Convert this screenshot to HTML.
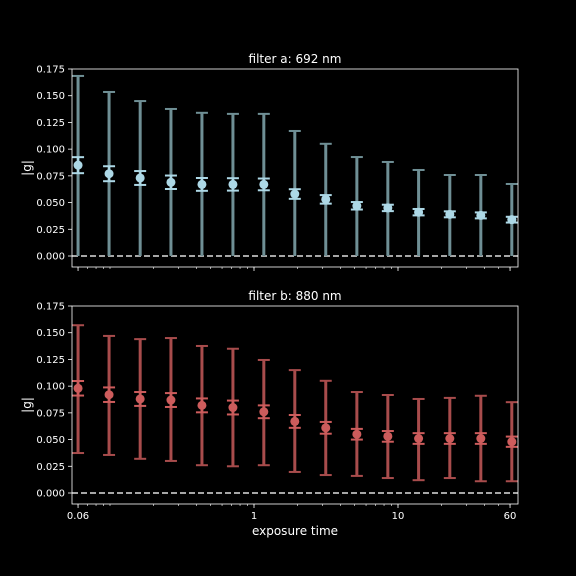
<!DOCTYPE html>
<html><head><meta charset="utf-8"><style>
body{margin:0;background:#000;}
svg{display:block;font-family:"DejaVu Sans","Liberation Sans",sans-serif;}
</style></head><body>
<svg id="chart" width="576" height="576" viewBox="0 0 576 576" xmlns="http://www.w3.org/2000/svg">
<rect width="576" height="576" fill="#000"/>
</svg>
<script>
const exposures=[0.06,0.0985,0.162,0.265,0.435,0.714,1.17,1.92,3.15,5.18,8.5,13.9,22.9,37.6,61.7];
const aMean=[0.085,0.077,0.073,0.069,0.067,0.067,0.067,0.058,0.053,0.047,0.045,0.041,0.039,0.038,0.034];
const aSmallErr=[0.0075,0.007,0.0065,0.0063,0.006,0.0058,0.0055,0.0045,0.004,0.0035,0.003,0.003,0.0028,0.0028,0.0027];
const aBigHigh=[0.1685,0.1535,0.145,0.1376,0.134,0.133,0.133,0.117,0.105,0.0926,0.088,0.0805,0.0758,0.0758,0.0674];
const aBigLow=[0,0,0,0,0,0,0,0,0,0,0,0,0,0,0];
const bMean=[0.098,0.092,0.088,0.087,0.082,0.080,0.076,0.067,0.061,0.055,0.053,0.051,0.051,0.051,0.048];
const bSmallErr=[0.0068,0.0068,0.0065,0.0065,0.0065,0.0065,0.006,0.006,0.0055,0.005,0.005,0.005,0.005,0.005,0.0048];
const bBigHigh=[0.157,0.147,0.144,0.145,0.1376,0.135,0.1245,0.115,0.105,0.0945,0.0917,0.088,0.089,0.091,0.085];
const bBigLow=[0.0374,0.0356,0.032,0.030,0.026,0.025,0.026,0.0197,0.0168,0.016,0.014,0.012,0.014,0.011,0.011];
const yTicks=[0,0.025,0.05,0.075,0.1,0.125,0.15,0.175];
const xTickVals=[0.06,1,10,60];
const xTickLabels=["0.06","1","10","60"];

const NS="http://www.w3.org/2000/svg";
const svg=document.getElementById('chart');
function mk(tag,attrs,parent){const e=document.createElementNS(NS,tag);for(const k in attrs)e.setAttribute(k,attrs[k]);(parent||svg).appendChild(e);return e;}
const L=72,R=518;
const xScale=v=>254+144*Math.log10(v);

function panel(top,title,mean,se,hi,lo,barCol,ptCol,labels,name){
  const bottom=top+198;
  const zeroY=top+187;
  const yScale=v=>zeroY-v*(187/0.175);
  const g=mk('g',{});
  
  
  const zl=mk('line',{x1:L,x2:R,y1:yScale(0),y2:yScale(0),stroke:'#dddddd','stroke-width':1.6,'stroke-dasharray':'6,3'},g);
  
  
  for(let i=0;i<exposures.length;i++){
    const x=xScale(exposures[i]);
    const eb=mk('g',{},g);
    
    
    mk('line',{x1:x,x2:x,y1:yScale(lo[i]),y2:yScale(hi[i]),stroke:barCol,'stroke-width':3},eb);
    mk('line',{x1:x-6,x2:x+6,y1:yScale(hi[i]),y2:yScale(hi[i]),stroke:barCol,'stroke-width':2},eb);
    if(lo[i]>0)mk('line',{x1:x-6,x2:x+6,y1:yScale(lo[i]),y2:yScale(lo[i]),stroke:barCol,'stroke-width':2},eb);
    mk('line',{x1:x,x2:x,y1:yScale(mean[i]-se[i]),y2:yScale(mean[i]+se[i]),stroke:ptCol,'stroke-width':2},eb);
    mk('line',{x1:x-6,x2:x+6,y1:yScale(mean[i]+se[i]),y2:yScale(mean[i]+se[i]),stroke:ptCol,'stroke-width':2},eb);
    mk('line',{x1:x-6,x2:x+6,y1:yScale(mean[i]-se[i]),y2:yScale(mean[i]-se[i]),stroke:ptCol,'stroke-width':2},eb);
    const c=mk('circle',{cx:x,cy:yScale(mean[i]),r:4.5,fill:ptCol},g);
    
    
  }
  const fr=mk('rect',{x:L,y:top,width:R-L,height:bottom-top,fill:'none',stroke:'#ffffff','stroke-width':0.8},g);
  
  
  yTicks.forEach(v=>{
    const y=yScale(v);
    mk('line',{x1:L-4,x2:L,y1:y,y2:y,stroke:'#fff','stroke-width':0.8},g);
    const t=mk('text',{x:L-7,y:y+3.5,fill:'#fff','font-size':10,'text-anchor':'end'},g);
    t.textContent=v.toFixed(3);
    
    
  });
  for(let d=-2;d<=1;d++){for(let m=1;m<10;m++){const v=m*Math.pow(10,d);const x=xScale(v);if(x<L||x>R)continue;
    mk('line',{x1:x,x2:x,y1:bottom,y2:bottom+2,stroke:'#fff','stroke-width':0.6},g);}}
  xTickVals.forEach((v,i)=>{
    const x=xScale(v);
    mk('line',{x1:x,x2:x,y1:bottom,y2:bottom+4,stroke:'#fff','stroke-width':0.8},g);
    if(labels){const t=mk('text',{x:x,y:bottom+15,fill:'#fff','font-size':10,'text-anchor':'middle'},g);
      t.textContent=xTickLabels[i];
      
      }
  });
  const tt=mk('text',{x:(L+R)/2,y:top-6,fill:'#fff','font-size':12,'text-anchor':'middle'},g);
  tt.textContent=title;
  
  
  const yl=mk('text',{x:0,y:0,fill:'#fff','font-size':12,'text-anchor':'middle',transform:`translate(31,${(top+bottom)/2}) rotate(-90)`},g);
  yl.textContent='|g|';
  
  
}
panel(69,'filter a: 692 nm',aMean,aSmallErr,aBigHigh,aBigLow,'#6f8f95','#add8e6',false,'panel-filter-a');
panel(306,'filter b: 880 nm',bMean,bSmallErr,bBigHigh,bBigLow,'#a84c4c','#cd5c5c',true,'panel-filter-b');
const xl=mk('text',{x:295,y:535,fill:'#fff','font-size':12,'text-anchor':'middle'});
xl.textContent='exposure time';


</script>
</body></html>
